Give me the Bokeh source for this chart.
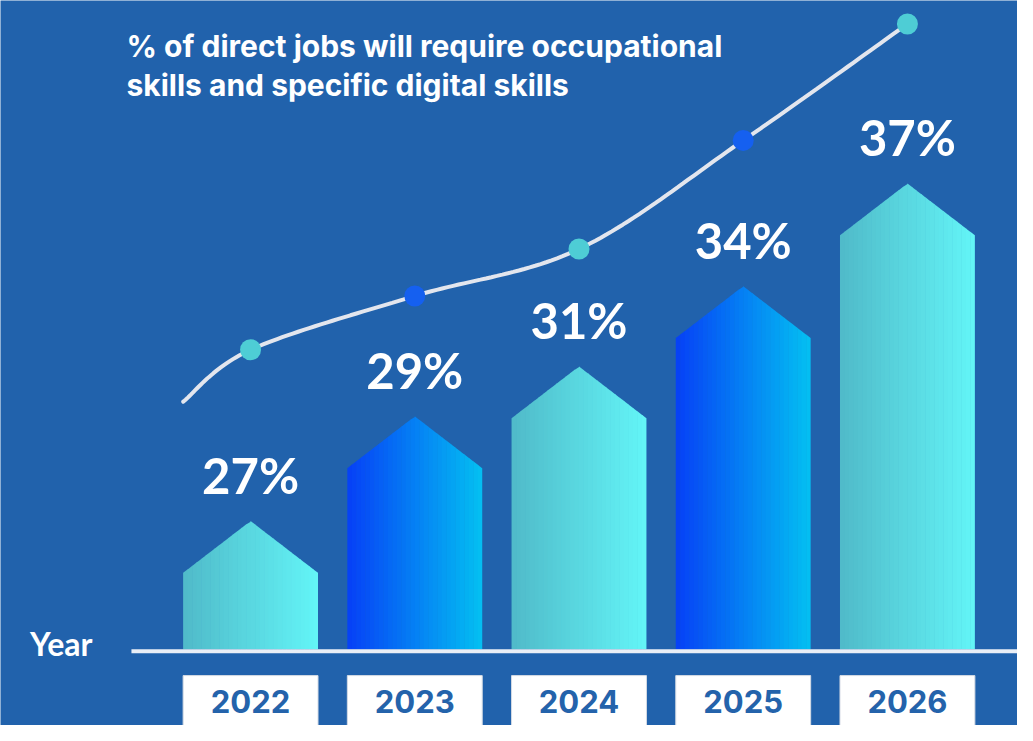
from bokeh.plotting import figure
from bokeh.models import Range1d
from bokeh.core.properties import value
from bokeh.embed import file_html
from bokeh.resources import INLINE
import numpy as np

# ---------------- data ----------------
years = ["2022", "2023", "2024", "2025", "2026"]
pct_values = [27, 29, 31, 34, 37]
pct_labels = [f"{v}%" for v in pct_values]
bar_heights = [78, 185, 236, 318, 423]      # shoulder height of each arrow bar (chart units)
trend_values = [306, 361, 409, 520, 639]    # trend-curve dot heights (chart units)
trend_start = (-0.41, 253)                  # where the trend curve begins
bar_styles = ["teal", "blue", "teal", "blue", "teal"]
title_lines = ["% of direct jobs will require occupational",
               "skills and specific digital skills"]
axis_title = "Year"

# ---------------- style ----------------
BG = "#2162ac"
HALF_W = 0.4107
ROOF = 53
GRAD = {"teal": ("#50bac9", "#63f5f7"), "blue": ("#0640f6", "#04c0f2")}
DOT = {"teal": "#4ecdd5", "blue": "#1560f0"}
N_SLICES = 30


def hex2rgb(h):
    h = h.lstrip("#")
    return np.array([int(h[i:i + 2], 16) for i in (0, 2, 4)], dtype=float)


def lerp_color(c0, c1, t):
    a, b = hex2rgb(c0), hex2rgb(c1)
    c = a + (b - a) * t
    return "#%02x%02x%02x" % tuple(int(round(v)) for v in c)


W, H = 1017, 725
UNIT = 166.8
p = figure(width=W, height=H, output_backend="svg", toolbar_location=None,
           x_range=Range1d(-254 / UNIT, (1033 - 254) / UNIT), y_range=Range1d(-78, 663),
           min_border=0, background_fill_color=BG, border_fill_color=BG,
           outline_line_color=None)
p.axis.visible = False
p.grid.visible = False

xpos = np.arange(len(years), dtype=float)

# ---- gradient arrow bars (vertical slices) ----
sx, sy, sc = [], [], []
for i, (h, st) in enumerate(zip(bar_heights, bar_styles)):
    left, right = xpos[i] - HALF_W, xpos[i] + HALF_W
    edges = np.linspace(left, right, N_SLICES + 1)

    def roof(x):
        return h + ROOF * (1 - abs(x - xpos[i]) / HALF_W)

    for k in range(N_SLICES):
        xl = edges[k]
        xr = edges[k + 1] + (0.003 if k < N_SLICES - 1 else 0)
        xr = min(xr, right)
        sx.append([xl, xr, xr, xl])
        sy.append([0, 0, roof(xr), roof(xl)])
        sc.append(lerp_color(GRAD[st][0], GRAD[st][1], (k + 0.5) / N_SLICES))
p.patches(xs=sx, ys=sy, fill_color=sc, line_color=None)

# ---- baseline ----
p.segment(x0=[xpos[0] - 0.7254], x1=[xpos[-1] + 1.2], y0=[-2], y1=[-2],
          line_color="#e9eef6", line_width=4)

# ---- year boxes ----
p.quad(left=xpos - HALF_W, right=xpos + HALF_W, top=[-27] * len(years), bottom=[-100] * len(years),
       fill_color="white", line_color="#d5dbe4", line_width=1)
p.text(x=xpos, y=[-53] * len(years), text=years, text_font=value("Inter"),
       text_font_style="bold", text_font_size="31px", text_color="#2463ab",
       text_align="center", text_baseline="middle")

# ---- percentage labels ----
p.text(x=xpos, y=[h + ROOF + 47 for h in bar_heights], text=pct_labels,
       text_font=value("Lato"), text_font_style="bold", text_font_size="49px",
       text_color="white", text_align="center", text_baseline="middle")

# ---- trend curve (Catmull-Rom through points) ----
pts = [trend_start] + list(zip(xpos, trend_values))
P = np.array([pts[0]] + pts + [pts[-1]], dtype=float)
cx, cy = [], []
for j in range(1, len(P) - 2):
    p0, p1, p2, p3 = P[j - 1], P[j], P[j + 1], P[j + 2]
    for t in np.linspace(0, 1, 30, endpoint=False):
        t2, t3 = t * t, t * t * t
        pt = 0.5 * ((2 * p1) + (-p0 + p2) * t + (2 * p0 - 5 * p1 + 4 * p2 - p3) * t2 +
                    (-p0 + 3 * p1 - 3 * p2 + p3) * t3)
        cx.append(pt[0])
        cy.append(pt[1])
cx.append(P[-2][0])
cy.append(P[-2][1])
p.line(cx, cy, line_color="#e3e6ee", line_width=4, line_cap="round")
p.scatter(x=xpos, y=trend_values, size=21, fill_color=[DOT[s] for s in bar_styles],
          line_color=None)

# ---- titles ----
p.text(x=[xpos[0] - 126 / UNIT] * 2, y=[616, 577], text=title_lines, text_font=value("Inter"),
       text_font_style="bold", text_font_size="30px", text_color="white",
       text_align="left", text_baseline="middle")
p.text(x=[xpos[0] - 224 / UNIT], y=[6], text=[axis_title], text_font=value("Lato"),
       text_font_style="bold", text_font_size="32px", text_color="white",
       text_align="left", text_baseline="middle")

open("out.html", "w").write(file_html(p, INLINE))
